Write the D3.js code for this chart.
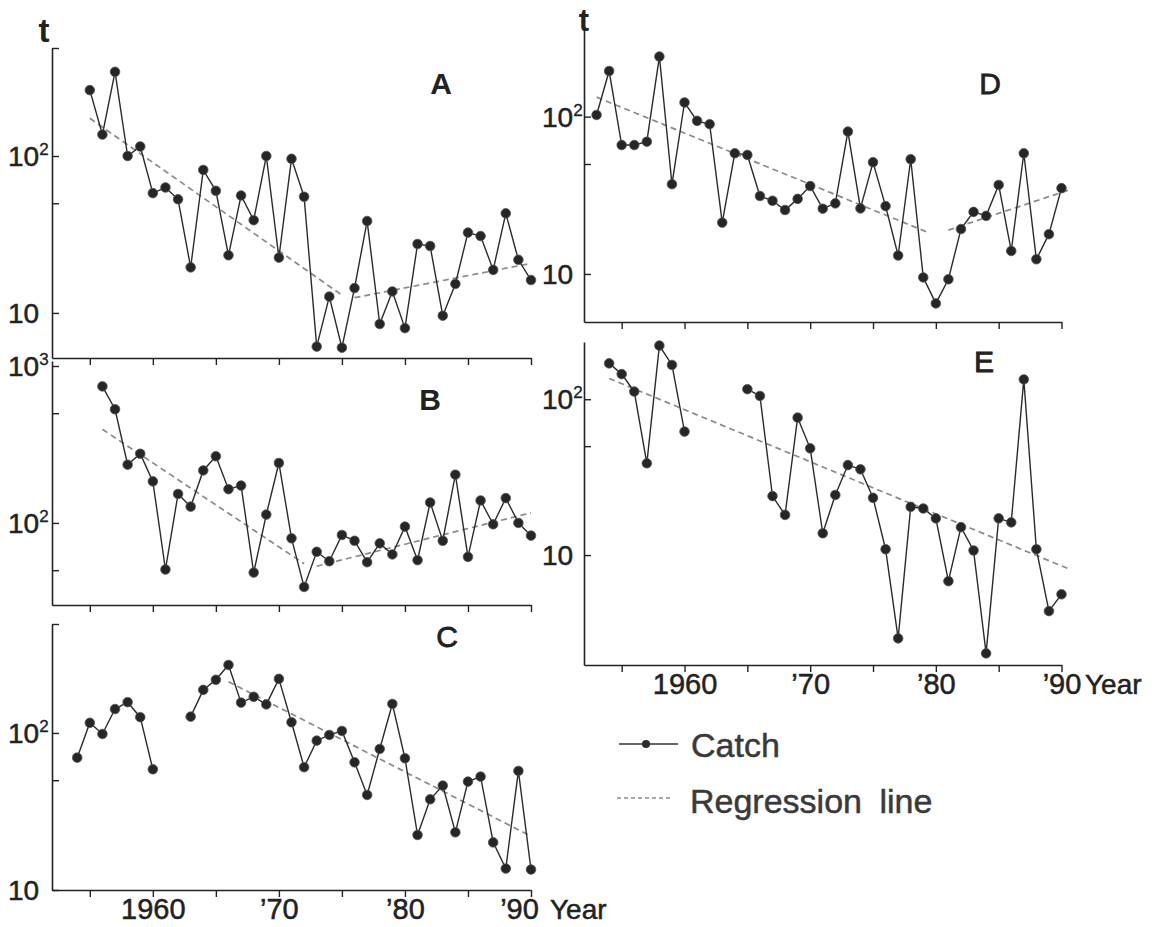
<!DOCTYPE html>
<html>
<head>
<meta charset="utf-8">
<script src="https://cdn.jsdelivr.net/npm/d3@7"></script>
<style>
  body { margin: 0; background: #fff; }
  svg { font-family: "Liberation Sans", Arial, Helvetica, sans-serif; }
</style>
</head>
<body>
<div id="chart"></div>
<script>
// catch in tonnes, one value per year from the start year (null = no data)
var startA = 1955;
var catchA = [263, 137, 344, 100, 115, 58, 63, 53, 19.5, 81.5, 60, 23.3, 56, 39, 100, 22.5, 96, 55,
              6.1, 12.7, 6.0, 14.4, 38.5, 8.5, 13.7, 8.0, 27.5, 26.7, 9.6, 15.3, 32.5, 30.9, 18.8, 43.1, 21.8, 16.2];
var startB = 1956;
var catchB = [741, 530, 235, 276, 184, 50.5, 153, 127, 216, 266, 164, 173, 48.3, 113, 241, 79.8, 39.1,
              65.5, 57, 83.8, 77, 56.2, 74.1, 63, 94.7, 57.9, 135, 77, 203, 60.8, 139, 98, 144, 100, 83];
var startC = 1954;
var catchC = [69.6, 116, 98.5, 142, 157, 126, 58.7, null, null, 127, 188, 218, 271, 156, 170, 152, 221, 117,
              60.5, 89.3, 97.1, 103, 65, 40.3, 79.1, 153, 69, 22.4, 37.8, 46.2, 23.3, 49, 52.7, 20.1, 13.7, 57.3, 13.5];
var startD = 1953;
var catchD = [102.5, 195, 66, 66, 69.3, 241, 37.2, 123, 94, 89.5, 21.2, 58.5, 57.1, 31.3, 29.2, 25.5, 30,
              36.2, 26, 28.1, 80.3, 26.1, 51.3, 27, 13.1, 53.6, 9.5, 6.5, 9.25, 19.3, 24.8, 23.4, 36.8, 14, 58.5, 12.4, 17.9, 35.1];
var startE = 1954;
var catchE = [170, 145, 112, 38.8, 221, 166, 62, null, null, null, null, 116, 105, 23.9, 18.1, 76.2, 48.4,
              13.8, 24.3, 37.8, 35.5, 23.3, 10.9, 2.92, 20.4, 19.9, 17.2, 6.8, 15.1, 10.7, 2.34, 17.2, 16.2, 134, 10.9, 4.37, 5.6];

// regression lines, [year, t] end points
var regA = [[[1955, 174], [1975, 13]], [[1976, 12.5], [1990, 20.7]]];
var regB = [[[1956, 395], [1972, 55]], [[1973, 53], [1990, 116]]];
var regC = [[[1966, 212], [1990, 22]]];
var regD = [[[1953, 133], [1979.5, 18.2]], [[1981, 19], [1990.5, 34]]];
var regE = [[[1954, 136], [1990.5, 8.2]]];

var xTicks = [1955, 1960, 1965, 1970, 1975, 1980, 1985, 1990];
var xLabels = {1960: "1960", 1970: "\u201970", 1980: "\u201980", 1990: "\u201990"};

var W = 1157, H = 927;
var svg = d3.select("#chart").append("svg").attr("width", W).attr("height", H);

var xLeft = d3.scaleLinear().domain([1952, 1990]).range([52, 531]);
var xRight = d3.scaleLinear().domain([1952, 1990]).range([584, 1061.5]);

var panels = [
  {name: "A", start: startA, vals: catchA, reg: regA, x: xLeft, dom: [5.16, 488], rng: [358, 48],
   labels: [[100, "2"], [10, ""]], minor: [50], bracket: true, lx: 8, letter: [441, 83, "bold"], years: false},
  {name: "B", start: startB, vals: catchB, reg: regB, x: xLeft, dom: [30, 1076], rng: [605, 361],
   labels: [[1000, "3"], [100, "2"]], minor: [500, 50], bracket: false, lx: 8, letter: [430, 399, "bold"], years: false},
  {name: "C", start: startC, vals: catchC, reg: regC, x: xLeft, dom: [10, 494], rng: [890, 624],
   labels: [[100, "2"], [10, ""]], minor: [50], bracket: true, lx: 8, letter: [447, 636, "normal"], years: true, yearX: 550},
  {name: "D", start: startD, vals: catchD, reg: regD, x: xRight, dom: [4.95, 366], rng: [322, 28],
   labels: [[100, "2"], [10, ""]], minor: [50], bracket: false, lx: 542, letter: [990, 83, "normal"], years: false},
  {name: "E", start: startE, vals: catchE, reg: regE, x: xRight, dom: [1.97, 233], rng: [665, 342],
   labels: [[100, "2"], [10, ""]], minor: [50], bracket: false, lx: 542, letter: [984, 361, "normal"], years: true, yearX: 1085}
];

var ink = "#222";

panels.forEach(function(p) {
  var x = p.x;
  var y = d3.scaleLog().domain(p.dom).range(p.rng);
  var g = svg.append("g");

  // y axis, ticks pointing inwards
  var yt = p.labels.map(function(l) { return l[0]; }).concat(p.minor);
  if (p.bracket) yt.push(p.dom[1]);
  var ya = g.append("g")
    .attr("transform", "translate(" + x.range()[0] + ",0)")
    .call(d3.axisRight(y).tickValues(yt).tickSize(7).tickSizeOuter(0).tickFormat(""));
  ya.select(".domain").attr("stroke", ink).attr("stroke-width", 1.6);
  ya.selectAll(".tick line").attr("stroke", ink).attr("stroke-width", 1.4);

  // x axis, ticks pointing down
  var xa = g.append("g")
    .attr("transform", "translate(0," + p.rng[0] + ")")
    .call(d3.axisBottom(x).tickValues(xTicks).tickSize(7).tickSizeOuter(0)
      .tickFormat(function(d) { return p.years && xLabels[d] ? xLabels[d] : ""; }));
  xa.select(".domain").attr("stroke", ink).attr("stroke-width", 1.6);
  xa.selectAll(".tick line").attr("stroke", ink).attr("stroke-width", 1.4);
  xa.selectAll(".tick text")
    .attr("y", 29).attr("dy", 0)
    .attr("font-size", 29).attr("fill", ink)
    .attr("stroke", ink).attr("stroke-width", 0.5)
    .attr("dx", function(d) { return (d === 1990 && p.x === xLeft) ? -12 : 0; });
  if (p.years) {
    g.append("text").attr("x", p.yearX).attr("y", p.rng[0] + 29)
      .attr("font-size", 28).attr("fill", ink).attr("stroke", ink).attr("stroke-width", 0.5).text("Year");
  }

  // y tick labels 10, 10^2, 10^3
  p.labels.forEach(function(l) {
    var t = g.append("text").attr("x", p.lx).attr("y", y(l[0]) + 10)
      .attr("font-size", 28).attr("fill", ink).attr("stroke", ink).attr("stroke-width", 0.5).text("10");
    if (l[1]) t.append("tspan").attr("dy", -11).attr("font-size", 17).attr("stroke-width", 0.3).text(l[1]);
  });

  // regression lines
  var rl = d3.line().x(function(d) { return x(d[0]); }).y(function(d) { return y(d[1]); });
  p.reg.forEach(function(seg) {
    g.append("path").attr("d", rl(seg)).attr("fill", "none")
      .attr("stroke", "#8a8a8a").attr("stroke-width", 1.7).attr("stroke-dasharray", "6,4");
  });

  // catch series
  var pts = p.vals.map(function(v, i) { return {year: p.start + i, v: v}; });
  var cl = d3.line().defined(function(d) { return d.v != null; })
    .x(function(d) { return x(d.year); }).y(function(d) { return y(d.v); });
  g.append("path").attr("d", cl(pts)).attr("fill", "none")
    .attr("stroke", "#2a2a2a").attr("stroke-width", 1.4);
  g.selectAll("circle").data(pts.filter(function(d) { return d.v != null; }))
    .enter().append("circle")
    .attr("cx", function(d) { return x(d.year); })
    .attr("cy", function(d) { return y(d.v); })
    .attr("r", 4.8).attr("fill", "#262626").attr("stroke", "#555").attr("stroke-width", 0.8);

  // panel letter
  g.append("text").attr("x", p.letter[0]).attr("y", p.letter[1])
    .attr("text-anchor", "middle").attr("dominant-baseline", "central")
    .attr("font-size", 30).attr("font-weight", p.letter[2]).attr("fill", ink)
    .attr("stroke", ink).attr("stroke-width", p.letter[2] === "bold" ? 0 : 0.8).text(p.name);
});

// unit labels
svg.append("text").attr("x", 44).attr("y", 42).attr("text-anchor", "middle")
  .attr("font-size", 33).attr("font-weight", "bold").attr("fill", ink).text("t");
svg.append("text").attr("x", 584).attr("y", 31).attr("text-anchor", "middle")
  .attr("font-size", 31).attr("font-weight", "bold").attr("fill", ink).text("t");

// legend
var lg = svg.append("g");
lg.append("line").attr("x1", 619).attr("x2", 678).attr("y1", 744).attr("y2", 744)
  .attr("stroke", "#333").attr("stroke-width", 1.3);
lg.append("circle").attr("cx", 646).attr("cy", 744).attr("r", 4).attr("fill", "#2b2b2b");
lg.append("text").attr("x", 691).attr("y", 757).attr("font-size", 34).attr("fill", "#3a3a3a")
  .attr("stroke", "#3a3a3a").attr("stroke-width", 0.5).text("Catch");
lg.append("line").attr("x1", 617).attr("x2", 673).attr("y1", 798).attr("y2", 798)
  .attr("stroke", "#8a8a8a").attr("stroke-width", 1.3).attr("stroke-dasharray", "4,3");
lg.append("text").attr("x", 690).attr("y", 813).attr("font-size", 34).attr("fill", "#3a3a3a")
  .attr("stroke", "#3a3a3a").attr("stroke-width", 0.5)
  .attr("word-spacing", 8).text("Regression line");
</script>
</body>
</html>
